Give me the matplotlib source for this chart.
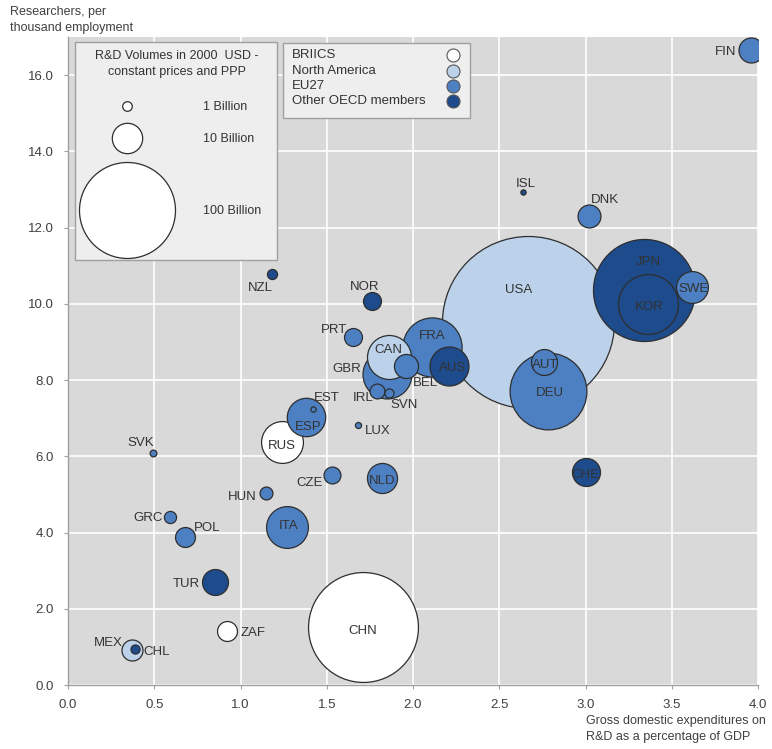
import matplotlib.pyplot as plt
from matplotlib.patches import Rectangle
import numpy as np

plt.rcParams['font.family'] = ['Liberation Sans', 'DejaVu Sans']

W, H = 772, 749

# country data
codes = ["FIN", "ISL", "DNK", "USA", "JPN", "KOR", "SWE", "DEU", "AUT", "CHE",
         "NZL", "NOR", "PRT", "CAN", "GBR", "BEL", "FRA", "AUS", "IRL", "SVN",
         "EST", "ESP", "LUX", "RUS", "SVK", "CZE", "NLD", "HUN", "GRC", "POL",
         "ITA", "TUR", "ZAF", "CHN", "MEX", "CHL"]
gerd = [3.96, 2.64, 3.02, 2.665, 3.34, 3.36, 3.62, 2.78, 2.76, 3.0,
        1.18, 1.76, 1.65, 1.86, 1.85, 1.96, 2.11, 2.21, 1.79, 1.86,
        1.42, 1.38, 1.68, 1.24, 0.49, 1.53, 1.82, 1.15, 0.59, 0.68,
        1.27, 0.85, 0.92, 1.71, 0.37, 0.39]
researchers = [16.65, 12.93, 12.3, 9.53, 10.37, 10.0, 10.45, 7.72, 8.48, 5.6,
               10.78, 10.08, 9.13, 8.61, 8.16, 8.37, 8.87, 8.37, 7.7, 7.66,
               7.24, 7.03, 6.82, 6.38, 6.09, 5.5, 5.43, 5.04, 4.41, 3.89,
               4.15, 2.7, 1.42, 1.52, 0.92, 0.94]
volume = [6.8, 0.3, 5.7, 321, 113, 39, 11, 64, 7.3, 8.5,
          1.1, 3.5, 3.5, 21, 26, 6.3, 38, 16.5, 2.4, 0.9,
          0.3, 16, 0.4, 19, 0.5, 3.1, 9.8, 1.8, 1.6, 4.3,
          19, 7.3, 4.3, 131, 4.8, 0.9]
group = ["EU27", "Other OECD members", "EU27", "North America", "Other OECD members",
         "Other OECD members", "EU27", "EU27", "EU27", "Other OECD members",
         "Other OECD members", "Other OECD members", "EU27", "North America", "EU27",
         "EU27", "EU27", "Other OECD members", "EU27", "EU27",
         "EU27", "EU27", "EU27", "BRIICS", "EU27", "EU27", "EU27", "EU27", "EU27", "EU27",
         "EU27", "Other OECD members", "BRIICS", "BRIICS", "North America", "Other OECD members"]

groups = ["BRIICS", "North America", "EU27", "Other OECD members"]
group_colors = {"BRIICS": "#ffffff", "North America": "#bcd2ea",
                "EU27": "#4d80c3", "Other OECD members": "#1d4b8b"}

size_legend = [1, 10, 100]
size_legend_labels = ["1 Billion", "10 Billion", "100 Billion"]

# label offsets from bubble centre, in pixels (dx right, dy down)
label_offsets = {
    "FIN": (-25, 2), "ISL": (2, -8), "DNK": (16, -16), "USA": (-9, -32),
    "JPN": (4, -28), "KOR": (2, 3), "SWE": (1, 2), "DEU": (2, 2), "AUT": (1, 3),
    "CHE": (0, 3), "NZL": (-11, 14), "NOR": (-7, -14), "PRT": (-19, -7),
    "CAN": (0, -7), "GBR": (-40, -5), "BEL": (19, 17), "FRA": (0, -11),
    "AUS": (3, 2), "IRL": (-14, 7), "SVN": (15, 12), "EST": (14, -11),
    "ESP": (2, 10), "LUX": (20, 6), "RUS": (0, 4), "SVK": (-12, -10),
    "CZE": (-22, 8), "NLD": (0, 3), "HUN": (-24, 4), "GRC": (-22, 1),
    "POL": (22, -9), "ITA": (1, -1), "TUR": (-28, 2), "ZAF": (26, 2),
    "CHN": (0, 4), "MEX": (-24, -7), "CHL": (21, 3),
}


def bubble_size(v):
    # diameter ~ 9.6 px * sqrt(billions), scatter wants points^2
    return (9.6 * np.sqrt(v) * 0.72) ** 2


def fxy(px, py):
    return px / W, 1 - py / H


fig = plt.figure(figsize=(W / 100, H / 100), dpi=100)
ax = fig.add_axes([68 / W, 64 / H, 690 / W, 648 / H])
ax.set_facecolor('#d9d9d9')
ax.set_axisbelow(True)
ax.grid(color='white', linewidth=1.2)
for s in ['top', 'right']:
    ax.spines[s].set_visible(False)
for s in ['left', 'bottom']:
    ax.spines[s].set_color('#a0a0a0')
    ax.spines[s].set_linewidth(1.0)

order = np.argsort(volume)[::-1]
for z, i in enumerate(order):
    ax.scatter(gerd[i], researchers[i], s=bubble_size(volume[i]),
               facecolor=group_colors[group[i]], edgecolor='#2e2e2e',
               linewidth=0.9, zorder=3 + z)

for i, c in enumerate(codes):
    dx, dy = label_offsets[c]
    ax.annotate(c, (gerd[i], researchers[i]), xytext=(dx * 0.72, -dy * 0.72),
                textcoords='offset points', ha='center', va='center',
                fontsize=9.5, color='#333333', zorder=100)

ax.set_xticks(np.arange(0, 4.01, 0.5))
ax.set_yticks(np.arange(0, 16.01, 2))
ax.set_xticklabels([f"{v:.1f}" for v in np.arange(0, 4.01, 0.5)])
ax.set_yticklabels([f"{v:.1f}" for v in np.arange(0, 16.01, 2)])
ax.tick_params(colors='#a0a0a0', labelcolor='#404040', labelsize=9.5,
               length=3, pad=7)

# size legend box
ax.add_patch(Rectangle(fxy(75, 260), 202 / W, 218 / H, transform=fig.transFigure,
                       facecolor='#eeeeee', edgecolor='#a0a0a0', linewidth=1,
                       clip_on=False, zorder=200))
ax.text(*fxy(177, 64), "R&D Volumes in 2000  USD -\nconstant prices and PPP",
        transform=fig.transFigure, ha='center', va='center', fontsize=9,
        color='#333333', linespacing=1.4, zorder=202)
leg_y = [106, 138, 210]
for v, lab, py in zip(size_legend, size_legend_labels, leg_y):
    ax.scatter(*fxy(127, py), s=bubble_size(v), facecolor='white',
               edgecolor='#2e2e2e', linewidth=0.9, transform=fig.transFigure,
               clip_on=False, zorder=201)
    ax.text(*fxy(203, py + 1), lab, transform=fig.transFigure, ha='left',
            va='center', fontsize=9, color='#333333', zorder=202)

# colour legend box
ax.add_patch(Rectangle(fxy(283, 118), 187 / W, 75 / H, transform=fig.transFigure,
                       facecolor='#eeeeee', edgecolor='#a0a0a0', linewidth=1,
                       clip_on=False, zorder=200))
for g, py in zip(groups, [55, 71, 86, 101]):
    ax.text(*fxy(292, py), g, transform=fig.transFigure, ha='left', va='center',
            fontsize=9.5, color='#333333', zorder=202)
    ax.scatter(*fxy(453, py), s=(13 * 0.72) ** 2, facecolor=group_colors[g],
               edgecolor='#555555', linewidth=0.8, transform=fig.transFigure,
               clip_on=False, zorder=201)

ax.set_xlim(0, 4)
ax.set_ylim(0, 17)

fig.text(*fxy(10, 6), "Researchers, per\nthousand employment", ha='left', va='top',
         fontsize=9, color='#404040', linespacing=1.4)
fig.text(*fxy(586, 715), "Gross domestic expenditures on\nR&D as a percentage of GDP",
         ha='left', va='top', fontsize=9, color='#404040', linespacing=1.4)

fig.savefig('out.png', dpi=100)
